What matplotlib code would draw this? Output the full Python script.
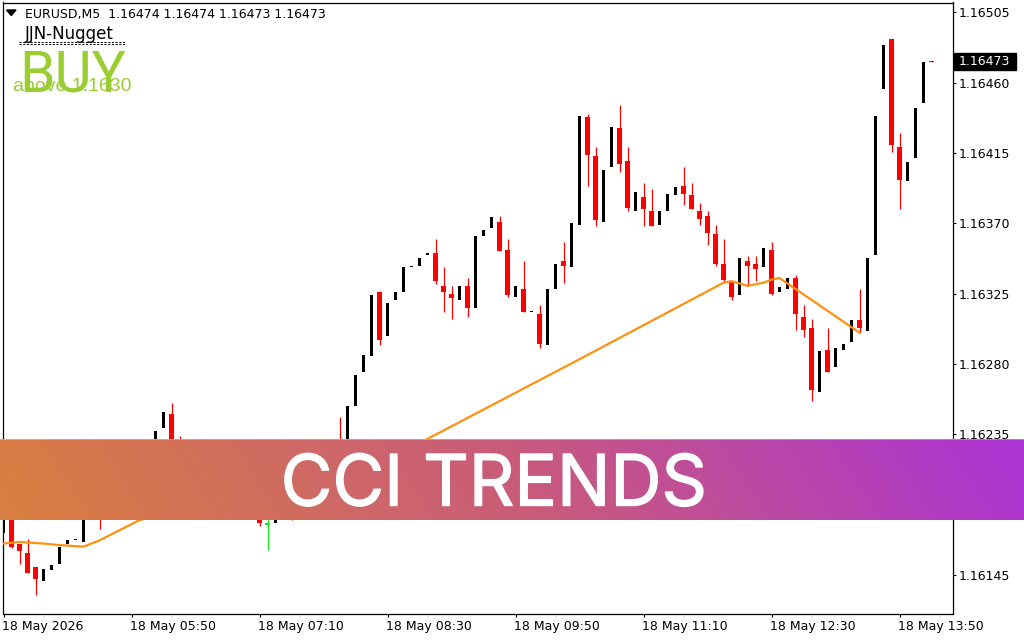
import matplotlib
matplotlib.use("Agg")
import matplotlib.pyplot as plt
import matplotlib.patheffects as pe
import numpy as np
from matplotlib.lines import Line2D
from matplotlib.patches import Polygon, Rectangle
from matplotlib.transforms import ScaledTranslation

W, H = 1024, 640
N = None

# OHLC per 5 minute bar, in 1e-5 price units. None = bar fully behind the banner
opens = [116172, 116193, 116165, 116159, 116150, 116141, 116148, 116152, 116165, 116167,
         116166, N, 116195, N, N, N, N, N, N, 116212,
         116239, 116248, 116232, N, N, N, N, N, N, N,
         N, N, 116190, 116177, 116178, N, 116195, N, N, N,
         N, N, 116230, 116225, 116253, 116275, 116285, 116326, 116298, 116321,
         116326, 116342, 116343, 116350, 116351, 116330, 116325, 116321, 116330, 116316,
         116362, 116367, 116371, 116353, 116323, 116328, 116313, 116312, 116292, 116328,
         116346, 116342, 116369, 116438, 116413, 116371, 116406, 116431, 116410, 116378,
         116387, 116378, 116369, 116378, 116388, 116394, 116388, 116378, 116375, 116363,
         116344, 116333, 116324, 116346, 116344, 116342, 116353, 116326, 116328, 116335,
         116310, 116303, 116262, 116289, 116278, 116289, 116294, 116308, 116301, 116350,
         116456, 116488, 116419, 116397, 116412, 116447, 116474]
highs = [116193, 116193, 116165, 116168, 116150, 116149, 116151, 116163, 116167, 116167,
         116190, N, 116197, N, N, N, N, N, N, 116237,
         116249, 116255, 116234, N, N, N, N, N, N, N,
         N, N, 116190, 116190, 116190, N, 116200, N, N, N,
         N, N, 116246, 116253, 116273, 116286, 116324, 116327, 116319, 116326,
         116342, 116343, 116348, 116350, 116360, 116342, 116330, 116330, 116335, 116363,
         116366, 116374, 116375, 116360, 116330, 116346, 116313, 116318, 116328, 116344,
         116358, 116370, 116439, 116440, 116419, 116404, 116432, 116446, 116419, 116390,
         116396, 116392, 116378, 116389, 116393, 116406, 116396, 116383, 116378, 116369,
         116360, 116333, 116348, 116349, 116349, 116354, 116358, 116329, 116335, 116337,
         116318, 116309, 116288, 116303, 116290, 116293, 116308, 116328, 116348, 116439,
         116484, 116488, 116428, 116409, 116444, 116473, 116474]
lows = [116172, 116162, 116152, 116146, 116132, 116141, 116148, 116152, 116165, 116167,
        116166, N, 116174, N, N, N, N, N, N, 116212,
        116239, 116210, 116222, N, N, N, N, N, N, N,
        N, N, 116176, 116161, 116178, N, 116180, N, N, N,
        N, N, 116215, 116225, 116253, 116275, 116285, 116292, 116298, 116321,
        116326, 116342, 116343, 116350, 116331, 116313, 116309, 116321, 116310, 116316,
        116362, 116367, 116352, 116323, 116323, 116313, 116313, 116290, 116292, 116328,
        116332, 116342, 116369, 116394, 116368, 116371, 116406, 116403, 116378, 116378,
        116368, 116368, 116369, 116378, 116388, 116382, 116379, 116369, 116356, 116343,
        116333, 116321, 116324, 116330, 116333, 116342, 116324, 116326, 116328, 116302,
        116297, 116256, 116262, 116275, 116278, 116289, 116294, 116300, 116301, 116350,
        116456, 116416, 116379, 116397, 116412, 116447, 116473]
closes = [116193, 116163, 116160, 116146, 116142, 116149, 116151, 116163, 116167, 116167,
          116190, N, 116182, N, N, N, N, N, N, 116237,
          116249, 116212, 116225, N, N, N, N, N, N, N,
          N, N, 116178, 116177, 116190, N, 116186, N, N, N,
          N, N, 116222, 116253, 116273, 116286, 116324, 116295, 116319, 116326,
          116342, 116343, 116348, 116350, 116333, 116326, 116322, 116330, 116316, 116362,
          116366, 116374, 116352, 116324, 116330, 116313, 116313, 116293, 116328, 116344,
          116343, 116370, 116439, 116414, 116372, 116404, 116432, 116408, 116380, 116390,
          116379, 116368, 116378, 116389, 116393, 116389, 116379, 116373, 116364, 116344,
          116334, 116323, 116348, 116343, 116341, 116354, 116325, 116329, 116335, 116312,
          116302, 116263, 116288, 116275, 116290, 116293, 116308, 116303, 116348, 116439,
          116484, 116420, 116398, 116409, 116444, 116473, 116473]
green_bars = [33]

# moving average line, by bar number
ma_bars = [0, 2, 5, 7, 10, 12, 17, 25, 33, 53, 72, 90, 91, 93, 95, 96, 97, 99, 107]
ma_prices = [116165, 116166, 116165, 116164, 116163, 116167, 116180, 116190, 116183, 116232,
             116283, 116332, 116333, 116330, 116332, 116334, 116335, 116328, 116300]

price_ticks = [1.16505, 1.16460, 1.16415, 1.16370, 1.16325, 1.16280, 1.16235, 1.16190, 1.16145]
date_ticks = [0, 16, 32, 48, 64, 80, 96, 112]
date_labels = ["18 May 2026", "18 May 05:50", "18 May 07:10", "18 May 08:30",
               "18 May 09:50", "18 May 11:10", "18 May 12:30", "18 May 13:50"]


def fx(px):
    return px / W


def fy(px):
    return 1 - px / H


def to_price(values):
    return np.array(values, dtype=float) / 1e5


o = to_price(opens)
h = to_price(highs)
l = to_price(lows)
c = to_price(closes)
idx = np.arange(len(o))
shown = ~np.isnan(o)

plt.rcParams["font.family"] = "DejaVu Sans"
fig = plt.figure(figsize=(W / 100, H / 100), dpi=100, facecolor="white")

left, right, top, bottom = 2.5, 952.5, 2.5, 613.5
ax = fig.add_axes([fx(left), fy(bottom), fx(right - left), (bottom - top) / H])
ax.set_xlim((left - 3.5) / 8, (right - 3.5) / 8)
ax.set_ylim(1.161202, 1.165114)

# candles: black bars are thin, red ones wider with a hairline wick
red = shown & (c < o)
green = np.isin(idx, green_bars)
black = shown & ~red & ~green
min_h = 0.00001
body_h = np.maximum(np.abs(c - o), min_h)
body_low = np.minimum(o, c)
ax.vlines(idx[red], l[red], h[red], color="#ff0000", lw=0.9, zorder=2)
ax.vlines(idx[green], l[green], h[green], color="#18e818", lw=0.9, zorder=2)
ax.bar(idx[red], body_h[red], 5 / 8, body_low[red], color="#ff0000", zorder=3)
ax.bar(idx[green], body_h[green], 5 / 8, body_low[green], color="#18e818", zorder=3)
ax.bar(idx[black], body_h[black], 3 / 8, body_low[black], color="black", zorder=3)
ax.plot(ma_bars, to_price(ma_prices), color="#ff9010", lw=1.6, zorder=4)

ax.set_yticks(price_ticks)
ax.set_yticklabels(["%.5f" % p for p in price_ticks])
ax.set_xticks(date_ticks)
ax.set_xticklabels(date_labels, ha="left")
ax.yaxis.tick_right()
ax.tick_params(axis="both", length=2.2, width=0.8, labelsize=9, colors="black")
ax.tick_params(axis="y", pad=2.5)
ax.tick_params(axis="x", pad=2.5)
nudge = ScaledTranslation(-2 / 100, 0, fig.dpi_scale_trans)
for lab in ax.get_xticklabels():
    lab.set_transform(lab.get_transform() + nudge)
for s in ax.spines.values():
    s.set_linewidth(0.9)

# header texts
fig.add_artist(Polygon([(fx(6.5), fy(10)), (fx(16), fy(10)), (fx(11.3), fy(15.5))],
                       closed=True, color="black", transform=fig.transFigure))
fig.text(fx(25), fy(14.5), "EURUSD,M5  1.16474 1.16474 1.16473 1.16473",
         fontsize=9, va="center", ha="left")
fig.text(fx(25), fy(34), "JJN-Nugget", fontsize=12, va="center", ha="left", color="black")
for yy in [41.5, 43.5]:
    fig.add_artist(Line2D([fx(19), fx(125)], [fy(yy), fy(yy)], color="black", lw=0.7,
                          dashes=(2.2, 1.6), transform=fig.transFigure))
fig.text(fx(19), fy(91), "BUY", color="#9acd32", fontsize=41, ha="left", va="baseline",
         family="Roboto")
fig.text(fx(13), fy(91), "above 1.1630", color="#9acd32", fontsize=14, ha="left", va="baseline",
         family="Liberation Sans")

# current price tag
fig.add_artist(Rectangle((fx(954), fy(70)), 62 / W, 17 / H, color="black",
                         transform=fig.transFigure))
fig.text(fx(959), fy(61.5), "1.16473", color="white", fontsize=9, ha="left", va="center")

# banner with a slightly slanted gradient
band = fig.add_axes([0, fy(520), 1, 81 / H], zorder=10)
gx, gy = np.meshgrid(np.linspace(0, 1, 512), np.linspace(0, 1, 41))
t = np.clip(gx + 0.05 * (0.5 - gy), 0, 1)
stops = np.array([[217, 126, 66], [201, 92, 122], [172, 52, 210]]) / 255
grad = np.dstack([np.interp(t, [0, 0.5, 1], stops[:, k]) for k in range(3)])
band.imshow(grad, aspect="auto", extent=(0, 1, 1, 0), interpolation="bilinear")
band.axhline(0.006, color="white", lw=0.72, alpha=0.3)
band.axhline(0.994, color="white", lw=0.72, alpha=0.3)
band.axis("off")
fig.text(fx(494), fy(480), "CCI TRENDS", color="white", fontsize=51, ha="center", va="center_baseline",
         family="Inter", zorder=20,
         path_effects=[pe.withStroke(linewidth=1.0, foreground="white")])

fig.savefig("out.png", dpi=100)
